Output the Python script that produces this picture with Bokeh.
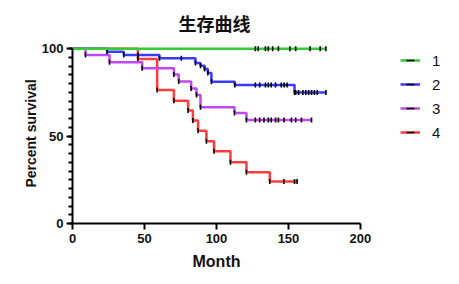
import numpy as np
from bokeh.plotting import figure
from bokeh.models import Range1d, FixedTicker, Legend, LegendItem, Title
from bokeh.embed import file_html
from bokeh.resources import INLINE

# ---- data ----
groups = ["1", "2", "3", "4"]
colors = ["#33cc33", "#3a3aff", "#bf48ef", "#ff3b3b"]

g1_events = []
g1_surv = []
g1_end = 176
g1_cens = [127, 129, 134, 136, 139, 143, 151, 155, 165, 172, 176]

g2_events = [24, 35.6, 60.4, 85.4, 88.9, 91.7, 94, 96.5, 112.7, 154.2]
g2_surv = [98.3, 96.4, 94.5, 91.8, 90.3, 88.4, 86.1, 81.1, 79.2, 75.0]
g2_end = 176
g2_cens = [45.6, 75.6, 127, 130, 134, 136, 138, 141, 145, 147, 149,
           155, 157, 160, 162, 164, 166, 168, 170, 176]

g3_events = [9, 25.7, 48.4, 70.4, 73.8, 82.4, 86.1, 88.9, 112.5, 120.8]
g3_surv = [96.4, 92.2, 88.8, 85.3, 81.3, 77.3, 73.5, 66.5, 63.2, 59.2]
g3_end = 166.4
g3_cens = [127, 130, 133, 136, 138, 141, 143, 147, 152, 155, 159, 166]

g4_events = [45.4, 58.8, 70.4, 80.3, 83.6, 87.2, 93, 98.3, 109.7, 120.8, 137]
g4_surv = [94.1, 76.4, 70.3, 64.6, 58.9, 53.1, 47.0, 41.3, 35.0, 29.3, 24.0]
g4_end = 156
g4_cens = [146.8, 154.2, 156]

x_ticks = [0, 50, 100, 150, 200]
y_ticks = [0, 50, 100]

series = [
    (g1_events, g1_surv, g1_end, g1_cens),
    (g2_events, g2_surv, g2_end, g2_cens),
    (g3_events, g3_surv, g3_end, g3_cens),
    (g4_events, g4_surv, g4_end, g4_cens),
]

FONT = "Liberation Sans"

p = figure(width=459, height=284, output_backend="svg", toolbar_location=None,
           x_range=Range1d(0, 266), y_range=Range1d(0, 103),
           min_border_left=72, min_border_right=4, min_border_top=43,
           min_border_bottom=61, title="生存曲线")
p.outline_line_color = None
p.grid.visible = False
p.background_fill_color = "white"

p.title.text_font = "Noto Sans CJK SC"
p.title.text_font_size = "18px"
p.title.text_font_style = "bold"
p.title.align = "left"
p.title.offset = 106
p.title.standoff = 15
p.title.text_color = "#111111"

for ax in (p.xaxis, p.yaxis):
    ax.axis_line_width = 2
    ax.major_tick_line_width = 2
    ax.minor_tick_line_width = 2
    ax.major_tick_out = 6
    ax.major_tick_in = 0
    ax.minor_tick_in = 0
    ax.major_label_text_font = FONT
    ax.major_label_text_font_style = "bold"
    ax.major_label_text_font_size = "13px"
    ax.major_label_text_color = "#111111"
    ax.axis_label_text_font = FONT
    ax.axis_label_text_font_style = "bold"
    ax.axis_label_text_color = "#111111"

p.xaxis.ticker = FixedTicker(ticks=x_ticks, minor_ticks=[])
p.xaxis.bounds = (0, 200)
p.xaxis.major_label_standoff = 4

xlab = Title(text="Month", align="left", offset=120, text_font=FONT,
             text_font_size="16px", text_font_style="bold",
             text_color="#111111", standoff=11)
p.add_layout(xlab, "below")

p.yaxis.ticker = FixedTicker(ticks=y_ticks, minor_ticks=list(range(0, 101, 5)))
p.yaxis.bounds = (0, 100)
p.yaxis.minor_tick_out = 4
p.yaxis.axis_label = "Percent survival"
p.yaxis.axis_label_text_font_size = "14px"
p.yaxis.major_label_standoff = 3
p.yaxis.axis_label_standoff = 0

renderers = {}
for i in [3, 2, 1, 0]:
    ev, sv, end, cens = series[i]
    xs = [0] + list(ev) + [end]
    ys = [100] + list(sv) + [sv[-1] if sv else 100]
    r1 = p.step(xs, ys, mode="after", line_color=colors[i], line_width=2.5)

    def level(t, ev=ev, sv=sv):
        s = 100
        for e, v in zip(ev, sv):
            if e <= t:
                s = v
        return s
    mx = list(ev) + list(cens)
    my = list(sv) + [level(t) for t in cens]
    r2 = p.scatter(mx, my, marker="dash", angle=np.pi / 2, size=5,
                   line_color="black", line_width=1.6)
    renderers[i] = [r1, r2]

items = [LegendItem(label=groups[i], renderers=renderers[i]) for i in range(4)]

leg = Legend(items=items, location=(328, 81), glyph_width=20, glyph_height=20,
             label_height=20, spacing=4, label_standoff=12,
             label_text_font=FONT, label_text_font_size="15px",
             label_text_color="#111111",
             border_line_color=None, background_fill_alpha=0)
p.add_layout(leg, "center")

open("out.html", "w").write(file_html(p, INLINE))
